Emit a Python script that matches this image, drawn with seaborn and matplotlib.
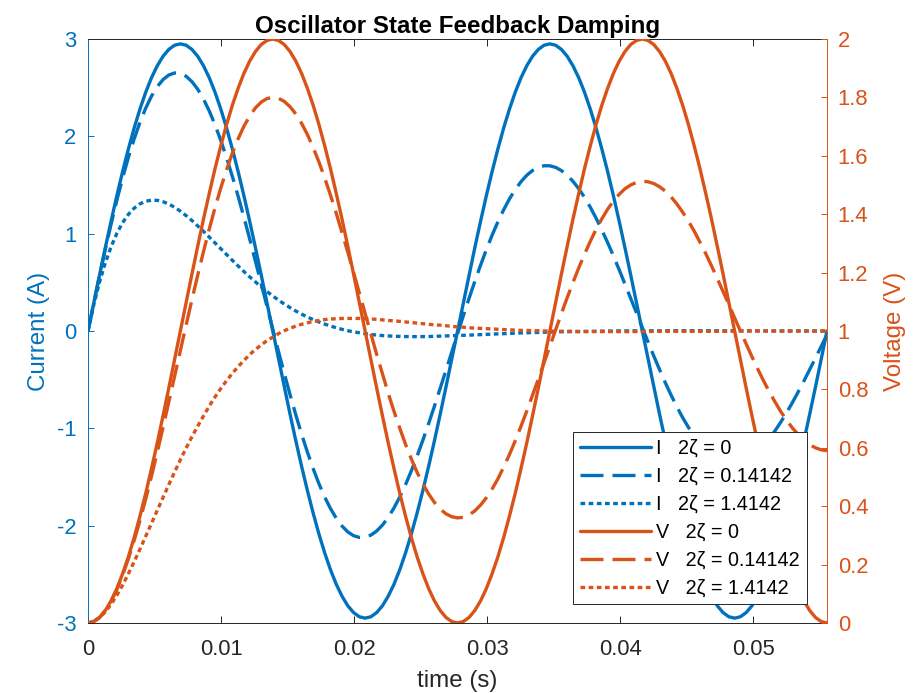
import matplotlib
matplotlib.use("Agg")
import matplotlib.pyplot as plt
import seaborn as sns
import pandas as pd
from matplotlib.ticker import FixedLocator, FuncFormatter

# ---------------------------------------------------------------------------
# Sampled oscillator responses (time in seconds)
# ---------------------------------------------------------------------------
time_s = [
    0.000000, 0.000434, 0.000868, 0.001302, 0.001736, 0.002170, 0.002604, 0.003038,
    0.003472, 0.003906, 0.004340, 0.004774, 0.005208, 0.005642, 0.006076, 0.006510,
    0.006944, 0.007378, 0.007813, 0.008247, 0.008681, 0.009115, 0.009549, 0.009983,
    0.010417, 0.010851, 0.011285, 0.011719, 0.012153, 0.012587, 0.013021, 0.013455,
    0.013889, 0.014323, 0.014757, 0.015191, 0.015625, 0.016059, 0.016493, 0.016927,
    0.017361, 0.017795, 0.018229, 0.018663, 0.019097, 0.019531, 0.019965, 0.020399,
    0.020833, 0.021267, 0.021701, 0.022135, 0.022569, 0.023003, 0.023438, 0.023872,
    0.024306, 0.024740, 0.025174, 0.025608, 0.026042, 0.026476, 0.026910, 0.027344,
    0.027778, 0.028212, 0.028646, 0.029080, 0.029514, 0.029948, 0.030382, 0.030816,
    0.031250, 0.031684, 0.032118, 0.032552, 0.032986, 0.033420, 0.033854, 0.034288,
    0.034722, 0.035156, 0.035590, 0.036024, 0.036458, 0.036892, 0.037326, 0.037760,
    0.038194, 0.038628, 0.039063, 0.039497, 0.039931, 0.040365, 0.040799, 0.041233,
    0.041667, 0.042101, 0.042535, 0.042969, 0.043403, 0.043837, 0.044271, 0.044705,
    0.045139, 0.045573, 0.046007, 0.046441, 0.046875, 0.047309, 0.047743, 0.048177,
    0.048611, 0.049045, 0.049479, 0.049913, 0.050347, 0.050781, 0.051215, 0.051649,
    0.052083, 0.052517, 0.052951, 0.053385, 0.053819, 0.054253, 0.054688, 0.055122,
    0.055556,
]

# current (A), 2*zeta = 0
current_z0 = [
    0.000, 0.289, 0.576, 0.856, 1.129, 1.391, 1.639, 1.871,
    2.086, 2.280, 2.453, 2.602, 2.725, 2.823, 2.893, 2.936,
    2.950, 2.936, 2.893, 2.823, 2.725, 2.602, 2.453, 2.280,
    2.086, 1.871, 1.639, 1.391, 1.129, 0.856, 0.576, 0.289,
    0.000, -0.289, -0.576, -0.856, -1.129, -1.391, -1.639, -1.871,
    -2.086, -2.280, -2.453, -2.602, -2.725, -2.823, -2.893, -2.936,
    -2.950, -2.936, -2.893, -2.823, -2.725, -2.602, -2.453, -2.280,
    -2.086, -1.871, -1.639, -1.391, -1.129, -0.856, -0.576, -0.289,
    0.000, 0.289, 0.576, 0.856, 1.129, 1.391, 1.639, 1.871,
    2.086, 2.280, 2.453, 2.602, 2.725, 2.823, 2.893, 2.936,
    2.950, 2.936, 2.893, 2.823, 2.725, 2.602, 2.453, 2.280,
    2.086, 1.871, 1.639, 1.391, 1.129, 0.856, 0.576, 0.289,
    0.000, -0.289, -0.576, -0.856, -1.129, -1.391, -1.639, -1.871,
    -2.086, -2.280, -2.453, -2.602, -2.725, -2.823, -2.893, -2.936,
    -2.950, -2.936, -2.893, -2.823, -2.725, -2.602, -2.453, -2.280,
    -2.086, -1.871, -1.639, -1.391, -1.129, -0.856, -0.576, -0.289,
    0.000,
]

# current (A), 2*zeta = 0.14142
current_z1 = [
    0.000, 0.287, 0.568, 0.839, 1.098, 1.344, 1.573, 1.783,
    1.974, 2.144, 2.290, 2.413, 2.511, 2.583, 2.630, 2.651,
    2.647, 2.617, 2.562, 2.484, 2.383, 2.261, 2.118, 1.958,
    1.781, 1.589, 1.385, 1.170, 0.947, 0.718, 0.486, 0.252,
    0.019, -0.212, -0.437, -0.654, -0.863, -1.060, -1.244, -1.414,
    -1.569, -1.706, -1.824, -1.924, -2.004, -2.064, -2.103, -2.121,
    -2.119, -2.097, -2.055, -1.994, -1.915, -1.818, -1.705, -1.578,
    -1.437, -1.285, -1.122, -0.951, -0.773, -0.590, -0.404, -0.217,
    -0.030, 0.155, 0.335, 0.510, 0.677, 0.836, 0.985, 1.122,
    1.246, 1.357, 1.453, 1.534, 1.600, 1.649, 1.681, 1.698,
    1.697, 1.681, 1.648, 1.600, 1.538, 1.462, 1.373, 1.272,
    1.160, 1.038, 0.909, 0.772, 0.630, 0.484, 0.335, 0.185,
    0.036, -0.112, -0.257, -0.397, -0.532, -0.659, -0.779, -0.890,
    -0.990, -1.080, -1.158, -1.224, -1.277, -1.317, -1.344, -1.358,
    -1.359, -1.347, -1.322, -1.285, -1.236, -1.176, -1.105, -1.025,
    -0.936, -0.839, -0.736, -0.627, -0.514, -0.397, -0.278, -0.158,
    -0.038,
]

# current (A), 2*zeta = 1.4142
current_z2 = [
    0.000, 0.270, 0.503, 0.700, 0.866, 1.003, 1.113, 1.199,
    1.262, 1.306, 1.333, 1.344, 1.342, 1.328, 1.304, 1.271,
    1.231, 1.185, 1.135, 1.080, 1.024, 0.965, 0.905, 0.845,
    0.785, 0.726, 0.668, 0.611, 0.556, 0.504, 0.453, 0.405,
    0.360, 0.317, 0.277, 0.240, 0.205, 0.173, 0.144, 0.117,
    0.093, 0.071, 0.051, 0.033, 0.017, 0.003, -0.009, -0.019,
    -0.028, -0.036, -0.042, -0.047, -0.051, -0.054, -0.056, -0.057,
    -0.058, -0.058, -0.058, -0.057, -0.055, -0.054, -0.052, -0.050,
    -0.047, -0.045, -0.042, -0.040, -0.037, -0.035, -0.032, -0.030,
    -0.027, -0.025, -0.022, -0.020, -0.018, -0.016, -0.014, -0.012,
    -0.011, -0.009, -0.008, -0.007, -0.005, -0.004, -0.003, -0.002,
    -0.002, -0.001, 0.000, 0.000, 0.001, 0.001, 0.002, 0.002,
    0.002, 0.002, 0.002, 0.002, 0.003, 0.003, 0.003, 0.003,
    0.002, 0.002, 0.002, 0.002, 0.002, 0.002, 0.002, 0.002,
    0.002, 0.002, 0.001, 0.001, 0.001, 0.001, 0.001, 0.001,
    0.001, 0.001, 0.001, 0.000, 0.000, 0.000, 0.000, 0.000,
    0.000,
]

# voltage (V), 2*zeta = 0
voltage_z0 = [
    0.000, 0.005, 0.019, 0.043, 0.076, 0.118, 0.169, 0.227,
    0.293, 0.366, 0.444, 0.529, 0.617, 0.710, 0.805, 0.902,
    1.000, 1.098, 1.195, 1.290, 1.383, 1.471, 1.556, 1.634,
    1.707, 1.773, 1.831, 1.882, 1.924, 1.957, 1.981, 1.995,
    2.000, 1.995, 1.981, 1.957, 1.924, 1.882, 1.831, 1.773,
    1.707, 1.634, 1.556, 1.471, 1.383, 1.290, 1.195, 1.098,
    1.000, 0.902, 0.805, 0.710, 0.617, 0.529, 0.444, 0.366,
    0.293, 0.227, 0.169, 0.118, 0.076, 0.043, 0.019, 0.005,
    0.000, 0.005, 0.019, 0.043, 0.076, 0.118, 0.169, 0.227,
    0.293, 0.366, 0.444, 0.529, 0.617, 0.710, 0.805, 0.902,
    1.000, 1.098, 1.195, 1.290, 1.383, 1.471, 1.556, 1.634,
    1.707, 1.773, 1.831, 1.882, 1.924, 1.957, 1.981, 1.995,
    2.000, 1.995, 1.981, 1.957, 1.924, 1.882, 1.831, 1.773,
    1.707, 1.634, 1.556, 1.471, 1.383, 1.290, 1.195, 1.098,
    1.000, 0.902, 0.805, 0.710, 0.617, 0.529, 0.444, 0.366,
    0.293, 0.227, 0.169, 0.118, 0.076, 0.043, 0.019, 0.005,
    0.000,
]

# voltage (V), 2*zeta = 0.14142
voltage_z1 = [
    0.000, 0.005, 0.019, 0.043, 0.075, 0.115, 0.164, 0.220,
    0.283, 0.351, 0.425, 0.503, 0.585, 0.670, 0.757, 0.845,
    0.933, 1.021, 1.107, 1.191, 1.272, 1.349, 1.422, 1.490,
    1.552, 1.609, 1.658, 1.701, 1.736, 1.764, 1.784, 1.796,
    1.800, 1.797, 1.786, 1.768, 1.743, 1.711, 1.673, 1.628,
    1.579, 1.524, 1.465, 1.403, 1.337, 1.270, 1.200, 1.130,
    1.059, 0.989, 0.920, 0.853, 0.787, 0.725, 0.667, 0.612,
    0.562, 0.516, 0.476, 0.442, 0.413, 0.390, 0.374, 0.364,
    0.360, 0.362, 0.370, 0.384, 0.404, 0.429, 0.459, 0.494,
    0.534, 0.577, 0.624, 0.674, 0.726, 0.780, 0.835, 0.892,
    0.948, 1.004, 1.060, 1.114, 1.166, 1.216, 1.263, 1.307,
    1.348, 1.384, 1.417, 1.445, 1.468, 1.487, 1.500, 1.509,
    1.513, 1.511, 1.505, 1.494, 1.479, 1.459, 1.435, 1.407,
    1.376, 1.342, 1.304, 1.265, 1.223, 1.180, 1.135, 1.091,
    1.045, 1.000, 0.956, 0.912, 0.870, 0.830, 0.792, 0.757,
    0.724, 0.695, 0.668, 0.646, 0.627, 0.611, 0.600, 0.593,
    0.590,
]

# voltage (V), 2*zeta = 1.4142
voltage_z2 = [
    0.000, 0.005, 0.018, 0.038, 0.064, 0.095, 0.130, 0.169,
    0.210, 0.253, 0.297, 0.341, 0.386, 0.430, 0.474, 0.517,
    0.559, 0.599, 0.638, 0.674, 0.709, 0.743, 0.774, 0.803,
    0.830, 0.855, 0.878, 0.899, 0.919, 0.937, 0.952, 0.967,
    0.979, 0.991, 1.001, 1.009, 1.017, 1.023, 1.028, 1.033,
    1.036, 1.039, 1.041, 1.042, 1.043, 1.043, 1.043, 1.043,
    1.042, 1.041, 1.040, 1.038, 1.036, 1.035, 1.033, 1.031,
    1.029, 1.027, 1.025, 1.023, 1.021, 1.020, 1.018, 1.016,
    1.014, 1.013, 1.011, 1.010, 1.009, 1.008, 1.007, 1.006,
    1.005, 1.004, 1.003, 1.002, 1.002, 1.001, 1.001, 1.000,
    1.000, 0.999, 0.999, 0.999, 0.999, 0.998, 0.998, 0.998,
    0.998, 0.998, 0.998, 0.998, 0.998, 0.998, 0.998, 0.998,
    0.998, 0.998, 0.999, 0.999, 0.999, 0.999, 0.999, 0.999,
    0.999, 0.999, 0.999, 0.999, 0.999, 0.999, 0.999, 0.999,
    1.000, 1.000, 1.000, 1.000, 1.000, 1.000, 1.000, 1.000,
    1.000, 1.000, 1.000, 1.000, 1.000, 1.000, 1.000, 1.000,
    1.000,
]

damping_labels = ["0", "0.14142", "1.4142"]
x_ticks = [0, 0.01, 0.02, 0.03, 0.04, 0.05]
current_ticks = [-3, -2, -1, 0, 1, 2, 3]
voltage_ticks = [0, 0.2, 0.4, 0.6, 0.8, 1.0, 1.2, 1.4, 1.6, 1.8, 2.0]

# ---------------------------------------------------------------------------
# Styling
# ---------------------------------------------------------------------------
sns.set_style("white")
plt.rcParams["font.family"] = ["Liberation Sans", "DejaVu Sans"]
plt.rcParams["axes.unicode_minus"] = False

BLUE = "#0072BD"
ORANGE = "#D95319"
AXIS_GREY = "#262626"
LW = 2.4
line_styles = ["-", (0, (6.9, 2.7)), (0, (1.4, 1.05))]

TICK_FS = 15.8
LABEL_FS = 17.4
LEGEND_FS = 14.2

fig = plt.figure(figsize=(9.22, 6.93), dpi=100)
fig.patch.set_facecolor("white")
ax = fig.add_axes([88 / 922, 1 - 623 / 693, (827 - 88) / 922, (623 - 39) / 693])
ax2 = ax.twinx()

current_series = [current_z0, current_z1, current_z2]
voltage_series = [voltage_z0, voltage_z1, voltage_z2]

handles = []
labels = []
for vals, ls, dl in zip(current_series, line_styles, damping_labels):
    df = pd.DataFrame({"t": time_s, "y": vals})
    sns.lineplot(data=df, x="t", y="y", ax=ax, color=BLUE, linewidth=LW,
                 linestyle=ls, legend=False, sort=False, estimator=None)
    handles.append(ax.get_lines()[-1])
    labels.append("I   2\u03b6 = " + dl)

for vals, ls, dl in zip(voltage_series, line_styles, damping_labels):
    df = pd.DataFrame({"t": time_s, "y": vals})
    sns.lineplot(data=df, x="t", y="y", ax=ax2, color=ORANGE, linewidth=LW,
                 linestyle=ls, legend=False, sort=False, estimator=None)
    handles.append(ax2.get_lines()[-1])
    labels.append("V   2\u03b6 = " + dl)

for h in handles:
    h.set_dash_capstyle("butt")
    h.set_solid_capstyle("round")
    h.set_solid_joinstyle("round")

# axis limits and ticks
ax.set_xlim(0, time_s[-1])
ax.set_ylim(-3, 3)
ax2.set_ylim(0, 2)

fmt = FuncFormatter(lambda v, p: f"{round(v, 4):g}")
ax.xaxis.set_major_locator(FixedLocator(x_ticks))
ax.xaxis.set_major_formatter(fmt)
ax.yaxis.set_major_locator(FixedLocator(current_ticks))
ax.yaxis.set_major_formatter(fmt)
ax2.yaxis.set_major_locator(FixedLocator(voltage_ticks))
ax2.yaxis.set_major_formatter(fmt)

ax.tick_params(axis="x", direction="in", length=5, width=0.7, color=AXIS_GREY,
               labelcolor=AXIS_GREY, labelsize=TICK_FS, pad=11.5, top=True,
               bottom=True, labeltop=False)
ax.tick_params(axis="y", direction="in", length=4, width=0.7, color=BLUE,
               labelcolor=BLUE, labelsize=TICK_FS, pad=8.2, left=True, right=False)
ax2.tick_params(axis="y", direction="in", length=4, width=0.7, color=ORANGE,
                labelcolor=ORANGE, labelsize=TICK_FS, pad=7.7, right=True, left=False)

for side in ["top", "bottom"]:
    ax.spines[side].set_color(AXIS_GREY)
    ax.spines[side].set_linewidth(0.7)
    ax2.spines[side].set_visible(False)
ax.spines["left"].set_color(BLUE)
ax.spines["left"].set_linewidth(0.7)
ax.spines["right"].set_visible(False)
ax2.spines["left"].set_visible(False)
ax2.spines["right"].set_color(ORANGE)
ax2.spines["right"].set_linewidth(0.7)

ax.set_xlabel("time (s)", fontsize=LABEL_FS, color=AXIS_GREY, labelpad=7)
ax.set_ylabel("Current (A)", fontsize=LABEL_FS, color=BLUE, labelpad=5)
ax2.set_ylabel("Voltage (V)", fontsize=LABEL_FS, color=ORANGE, labelpad=11)
ax.set_title("Oscillator State Feedback Damping", fontsize=LABEL_FS,
             fontweight="bold", color="black", pad=4.3)

leg = ax2.legend(handles, labels, loc="upper left",
                 bbox_to_anchor=(573 / 922, 1 - 432 / 693),
                 bbox_transform=fig.transFigure, borderaxespad=0,
                 frameon=True, fancybox=False, framealpha=1,
                 fontsize=LEGEND_FS, handlelength=3.6, handletextpad=0.3,
                 labelspacing=0.46, borderpad=0.33)
leg.get_frame().set_edgecolor(AXIS_GREY)
leg.get_frame().set_linewidth(0.7)
for txt in leg.get_texts():
    txt.set_color("black")

fig.savefig("out.png", dpi=100, facecolor="white")
